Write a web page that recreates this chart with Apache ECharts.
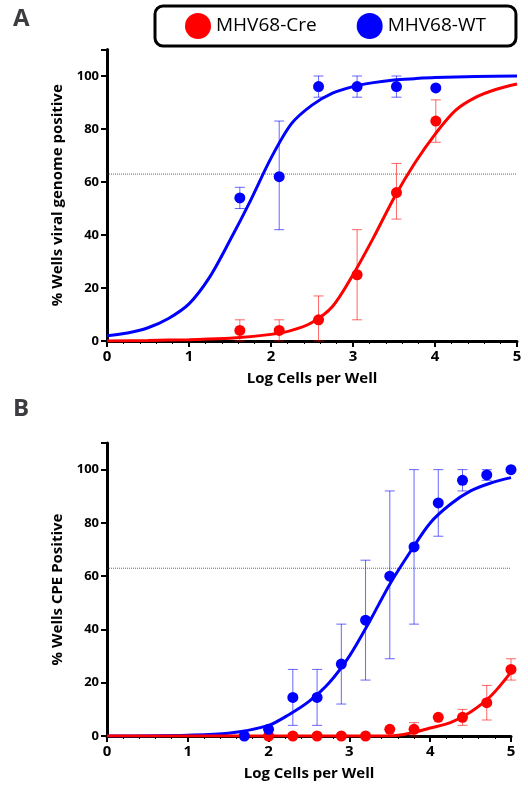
<!DOCTYPE html><html><head><meta charset="utf-8"><script src="https://cdn.jsdelivr.net/npm/echarts@6/dist/echarts.min.js"></script></head><body style="margin:0"><div id="c" style="width:528px;height:800px"></div><script>
// Panel A points [x, y, low, high]
const aWT=[[1.62,54,50,58],[2.1,62,42,83],[2.58,96,92,100],[3.05,96,92,100],[3.53,96,92,100],[4.01,95.5,95.5,95.5]];
const aCre=[[1.62,4,0,8],[2.1,4,0,8],[2.58,8,0,17],[3.05,25,8,42],[3.53,56,46,67],[4.01,83,75,91]];
const aWTcurve=[[0,2],[0.25,3],[0.5,5],[0.75,8.5],[1,14],[1.25,24],[1.5,38],[1.75,53],[2,69],[2.25,82],[2.5,89],[2.75,93.5],[3,96],[3.25,97.5],[3.5,98.5],[3.75,99],[4,99.4],[4.5,99.8],[5,100]];
const aCreCurve=[[0,0],[0.5,0.2],[1,0.5],[1.5,1],[2,2.5],[2.25,4],[2.5,7],[2.75,13],[3,25],[3.25,39],[3.5,54],[3.75,67],[4,78],[4.25,87],[4.5,92],[4.75,95],[5,97]];
// Panel B
const bWT=[[1.7,0,0,0],[2,2.5,2.5,2.5],[2.3,14.5,4,25],[2.6,14.5,4,25],[2.9,27,12,42],[3.2,43.5,21,66],[3.5,60,29,92],[3.8,71,42,100],[4.1,87.5,75,100],[4.4,96,92,100],[4.7,98,96,100],[5,100,100,100]];
const bCre=[[2,0,0,0],[2.3,0,0,0],[2.6,0,0,0],[2.9,0,0,0],[3.2,0,0,0],[3.5,2.5,2.5,2.5],[3.8,2.5,0,5],[4.1,7,7,7],[4.4,7,4,10],[4.7,12.5,6,19],[5,25,21,29]];
const bWTcurve=[[0,0],[1,0.3],[1.5,1],[2,4],[2.25,8],[2.5,13],[2.75,20],[3,30],[3.25,43],[3.5,57],[3.75,69],[4,80],[4.25,87],[4.5,92],[4.75,95],[5,97]];
const bCreCurve=[[0,0],[3.5,0],[3.75,1],[4,3],[4.25,5],[4.5,9],[4.75,15],[5,24]];
const refLine=63;
const RED='#ff0000', BLUE='#0000ff';
const ff='Open Sans';
function xAx(i){return {type:'value',gridIndex:i,min:0,max:5,interval:1,name:'Log Cells per Well',nameLocation:'middle',nameGap:30,nameTextStyle:{fontWeight:'bold',fontSize:15,color:'#000',fontFamily:ff},axisLine:{lineStyle:{color:'#000',width:3}},axisTick:{length:6,lineStyle:{width:2,color:'#000'}},minorTick:{show:true,splitNumber:5,length:3,lineStyle:{color:'#000'}},axisLabel:{fontWeight:'bold',fontSize:15,color:'#000',fontFamily:ff},splitLine:{show:false}};}
function yAx(i,name){return {type:'value',gridIndex:i,min:0,max:110,interval:20,name:name,nameLocation:'middle',nameGap:42,nameTextStyle:{fontWeight:'bold',fontSize:15,color:'#000',fontFamily:ff},axisLine:{show:true,lineStyle:{color:'#000',width:3}},axisTick:{show:true,length:6,lineStyle:{width:2,color:'#000'}},axisLabel:{fontWeight:'bold',fontSize:13,color:'#000',fontFamily:ff,formatter:v=>v>100?'':v},splitLine:{show:false}};}
function err(i,data,color){return {type:'custom',xAxisIndex:i,yAxisIndex:i,data:data.map(d=>[d[0],d[2],d[3]]),silent:true,z:3,renderItem:(p,api)=>{const lo=api.coord([api.value(0),api.value(1)]),hi=api.coord([api.value(0),api.value(2)]);const w=5;const st={stroke:color,lineWidth:1,opacity:0.6};return {type:'group',children:[{type:'line',shape:{x1:lo[0],y1:lo[1],x2:hi[0],y2:hi[1]},style:st},{type:'line',shape:{x1:lo[0]-w,y1:lo[1],x2:lo[0]+w,y2:lo[1]},style:st},{type:'line',shape:{x1:hi[0]-w,y1:hi[1],x2:hi[0]+w,y2:hi[1]},style:st}]};}};}
function pts(i,name,data,color){return {type:'scatter',name:name,xAxisIndex:i,yAxisIndex:i,data:data.map(d=>[d[0],d[1]]),symbolSize:11,itemStyle:{color:color,opacity:1},z:5};}
function curve(i,data,color){return {type:'line',xAxisIndex:i,yAxisIndex:i,data:data,smooth:0.3,showSymbol:false,lineStyle:{color:color,width:3},z:4,silent:true};}
function ref(i){return {type:'line',xAxisIndex:i,yAxisIndex:i,data:[[0,refLine],[5,refLine]],showSymbol:false,lineStyle:{color:'#444',width:0.8,type:[1,1]},silent:true,z:1};}
const opt={animation:false,
 title:[{text:'A',left:8,top:2,textStyle:{fontSize:24,fontWeight:'bold',fontFamily:ff}},{text:'B',left:8,top:392,textStyle:{fontSize:24,fontWeight:'bold',fontFamily:ff}}],
 legend:{data:['MHV68-Cre','MHV68-WT'],left:155,top:6,itemWidth:26,itemHeight:26,itemGap:40,padding:[7,30,7,30],borderColor:'#000',borderWidth:3,borderRadius:8,textStyle:{fontSize:19,fontFamily:ff,color:'#000'}},
 grid:[{left:107,right:11,top:49.5,bottom:459},{left:107,right:17,top:443,bottom:64}],
 xAxis:[xAx(0),xAx(1)],
 yAxis:[yAx(0,'% Wells viral genome positive'),yAx(1,'% Wells CPE Positive')],
 series:[ref(0),ref(1),curve(0,aWTcurve,BLUE),curve(0,aCreCurve,RED),curve(1,bWTcurve,BLUE),curve(1,bCreCurve,RED),
  err(0,aWT,BLUE),err(0,aCre,RED),err(1,bWT,BLUE),err(1,bCre,RED),
  pts(0,'MHV68-Cre',aCre,RED),pts(0,'MHV68-WT',aWT,BLUE),pts(1,'MHV68-Cre',bCre,RED),pts(1,'MHV68-WT',bWT,BLUE)]};
echarts.init(document.getElementById('c')).setOption(opt);
</script></body></html>
